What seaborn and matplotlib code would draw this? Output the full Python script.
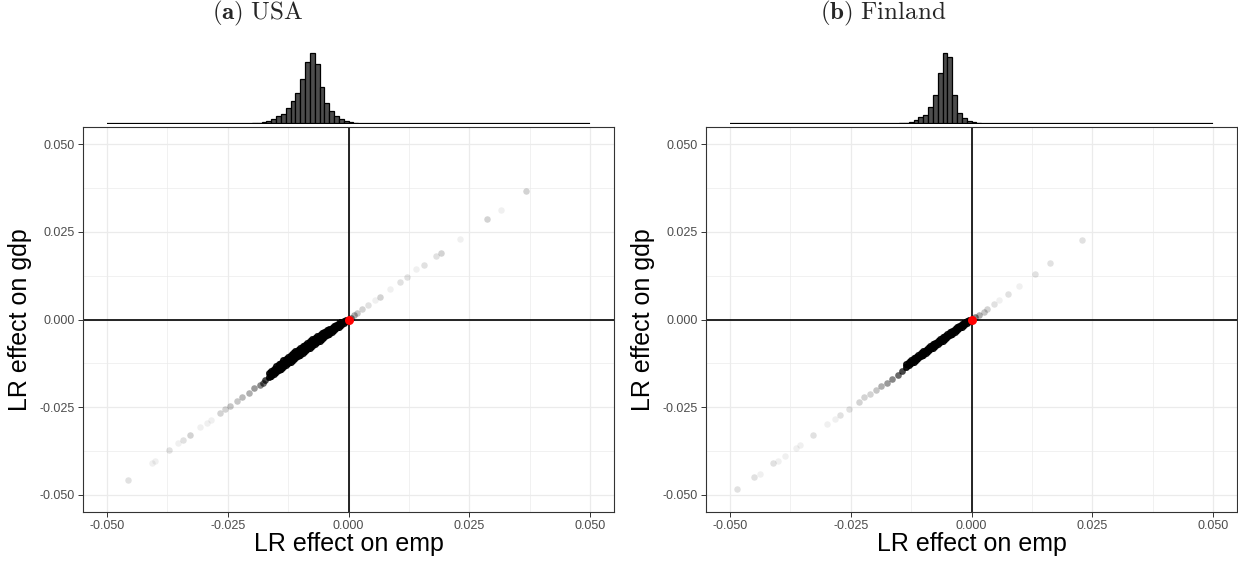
import numpy as np
import pandas as pd
import matplotlib
matplotlib.use("Agg")
import matplotlib.pyplot as plt
import seaborn as sns

# ---------------- data ----------------
tick_values = [-0.05, -0.025, 0.0, 0.025, 0.05]
tick_labels = ["-0.050", "-0.025", "0.000", "0.025", "0.050"]
minor_values = [-0.0375, -0.0125, 0.0125, 0.0375]

panel_titles = [r"$\mathbf{(a)}\ \mathrm{USA}$", r"$\mathbf{(b)}\ \mathrm{Finland}$"]
x_label = "LR effect on emp"
y_label = "LR effect on gdp"

# histogram (marginal of emp effect), bins of width 0.001 from -0.050 to 0.050
hist_bin_width = 0.001
hist_lo, hist_hi = -0.05, 0.05
usa_hist_first_bin = -0.021
usa_hist_counts = [1, 2, 3, 5, 8, 15, 23, 31, 47, 70, 93, 135, 187, 213,
                   180, 112, 63, 39, 24, 14, 8, 5, 2, 1]
fin_hist_first_bin = -0.016
fin_hist_counts = [1, 2, 4, 7, 13, 20, 27, 50, 87, 153, 213, 200, 88, 32,
                   18, 10, 6, 2, 1]

# scatter: dense band (many overlapping draws): upper and lower edge of the band
usa_band_emp = [0.0, -0.0005, -0.001, -0.0015, -0.002, -0.0025, -0.003, -0.0035, -0.004, -0.0045,
                -0.005, -0.0055, -0.006, -0.0065, -0.007, -0.0075, -0.008, -0.0085, -0.009, -0.0095,
                -0.010, -0.0105, -0.011, -0.0115, -0.012, -0.0125, -0.013, -0.0135, -0.014, -0.0145,
                -0.015, -0.0155, -0.016, -0.0165]
usa_band_gdp_hi = [0.0, -0.0001, -0.0003, -0.0007, -0.0011, -0.0015, -0.0019, -0.0023, -0.0027, -0.0031,
                   -0.0035, -0.0039, -0.0044, -0.0048, -0.0053, -0.0057, -0.0062, -0.0067, -0.0072, -0.0076,
                   -0.0081, -0.0086, -0.0091, -0.0096, -0.0101, -0.0107, -0.0112, -0.0117, -0.0123, -0.0128,
                   -0.0134, -0.0140, -0.0146, -0.0153]
usa_band_gdp_lo = [0.0, -0.0005, -0.0010, -0.0015, -0.0020, -0.0025, -0.0030, -0.0035, -0.0040, -0.0045,
                   -0.0050, -0.0055, -0.0060, -0.0065, -0.0070, -0.0075, -0.0080, -0.0085, -0.0090, -0.0095,
                   -0.0100, -0.0105, -0.0110, -0.0115, -0.0120, -0.0125, -0.0130, -0.0135, -0.0140, -0.0145,
                   -0.0150, -0.0155, -0.0160, -0.0164]
fin_band_emp = [0.0, -0.0005, -0.001, -0.0015, -0.002, -0.0025, -0.003, -0.0035, -0.004, -0.0045,
                -0.005, -0.0055, -0.006, -0.0065, -0.007, -0.0075, -0.008, -0.0085, -0.009, -0.0095,
                -0.010, -0.0105, -0.011, -0.0115, -0.012, -0.0125, -0.013, -0.0135]
fin_band_gdp_hi = [0.0, -0.0002, -0.0005, -0.0009, -0.0013, -0.0018, -0.0022, -0.0027, -0.0032, -0.0036,
                   -0.0041, -0.0046, -0.0051, -0.0056, -0.0061, -0.0066, -0.0071, -0.0076, -0.0081, -0.0086,
                   -0.0091, -0.0096, -0.0101, -0.0106, -0.0111, -0.0116, -0.0121, -0.0127]
fin_band_gdp_lo = [0.0, -0.0005, -0.0010, -0.0015, -0.0020, -0.0025, -0.0030, -0.0035, -0.0040, -0.0045,
                   -0.0050, -0.0055, -0.0060, -0.0065, -0.0070, -0.0075, -0.0080, -0.0085, -0.0090, -0.0095,
                   -0.0100, -0.0105, -0.0110, -0.0115, -0.0120, -0.0125, -0.0130, -0.0135]

# scatter: sparse points, with number of overlapping draws
usa_pts_emp = [0.0367, 0.0315, 0.0287, 0.0230, 0.0191, 0.0181, 0.0156, 0.0139, 0.0122, 0.0107,
               0.0086, 0.0065, 0.0054, 0.0040, 0.0029, 0.0018, 0.0011, 0.0005,
               -0.0457, -0.0408, -0.0401, -0.0371, -0.0353, -0.0343, -0.0328, -0.0307, -0.0294,
               -0.0284, -0.0267, -0.0255, -0.0245, -0.0230, -0.0220, -0.0207, -0.0195, -0.0184,
               -0.0178, -0.0172]
usa_pts_gdp = [0.0367, 0.0314, 0.0286, 0.0229, 0.0191, 0.0181, 0.0155, 0.0144, 0.0122, 0.0107,
               0.0086, 0.0065, 0.0055, 0.0041, 0.0029, 0.0019, 0.0012, 0.0005,
               -0.0458, -0.0411, -0.0403, -0.0373, -0.0354, -0.0344, -0.0330, -0.0308, -0.0297,
               -0.0287, -0.0268, -0.0257, -0.0246, -0.0232, -0.0222, -0.0209, -0.0197, -0.0187,
               -0.0180, -0.0174]
usa_pts_n = [3, 1, 3, 1, 3, 2, 2, 1, 2, 2,
             1, 3, 1, 2, 3, 4, 6, 10,
             2, 1, 1, 2, 1, 2, 3, 1, 1,
             1, 3, 3, 4, 4, 5, 6, 8, 10,
             14, 20]

fin_pts_emp = [0.0229, 0.0163, 0.0131, 0.0099, 0.0076, 0.0058, 0.0046, 0.0033, 0.0025, 0.0016, 0.0008,
               -0.0485, -0.0450, -0.0439, -0.0411, -0.0401, -0.0387, -0.0364, -0.0355, -0.0329,
               -0.0299, -0.0283, -0.0272, -0.0254, -0.0234, -0.0222, -0.0210, -0.0197, -0.0187,
               -0.0176, -0.0165, -0.0153, -0.0145]
fin_pts_gdp = [0.0226, 0.0162, 0.0129, 0.0096, 0.0072, 0.0055, 0.0044, 0.0031, 0.0022, 0.0014, 0.0007,
               -0.0485, -0.0451, -0.0441, -0.0411, -0.0403, -0.0389, -0.0368, -0.0358, -0.0330,
               -0.0299, -0.0284, -0.0274, -0.0255, -0.0235, -0.0222, -0.0213, -0.0200, -0.0189,
               -0.0180, -0.0170, -0.0159, -0.0148]
fin_pts_n = [2, 2, 2, 1, 2, 1, 2, 3, 4, 6, 10,
             2, 2, 1, 2, 1, 1, 1, 1, 2,
             1, 1, 2, 2, 3, 3, 3, 4, 6,
             8, 10, 14, 20]

band_draws = 40
point_alpha = 0.06

# ---------------- style ----------------
sns.set_style("white")
plt.rcParams["font.family"] = ["Liberation Sans", "DejaVu Sans"]
plt.rcParams["mathtext.fontset"] = "cm"

W, H = 1238, 562
fig = plt.figure(figsize=(W / 100, H / 100), dpi=100)

def fx(px):
    return px / W

def fy(py):
    return 1 - py / H

panels = [
    dict(left=83, title_x=258, title=panel_titles[0], first=usa_hist_first_bin, counts=usa_hist_counts,
         band_emp=usa_band_emp, band_hi=usa_band_gdp_hi, band_lo=usa_band_gdp_lo,
         pe=usa_pts_emp, pg=usa_pts_gdp, pn=usa_pts_n, ylab_x=20),
    dict(left=706, title_x=883, title=panel_titles[1], first=fin_hist_first_bin, counts=fin_hist_counts,
         band_emp=fin_band_emp, band_hi=fin_band_gdp_hi, band_lo=fin_band_gdp_lo,
         pe=fin_pts_emp, pg=fin_pts_gdp, pn=fin_pts_n, ylab_x=643),
]

ax_w = 531
ax_top, ax_bot = 127, 512
lim = (-0.055, 0.055)

n_bins = int(round((hist_hi - hist_lo) / hist_bin_width))
edges = np.round(hist_lo + hist_bin_width * np.arange(n_bins + 1), 4)
centers = edges[:-1] + hist_bin_width / 2

for p in panels:
    # ---- main scatter axes
    ax = fig.add_axes([fx(p["left"]), fy(ax_bot), fx(ax_w), (ax_bot - ax_top) / H])
    ax.set_facecolor("white")
    ax.set_xlim(lim)
    ax.set_ylim(lim)
    ax.set_xticks(tick_values)
    ax.set_xticklabels(tick_labels)
    ax.set_yticks(tick_values)
    ax.set_yticklabels(tick_labels)
    ax.set_xticks(minor_values, minor=True)
    ax.set_yticks(minor_values, minor=True)
    ax.grid(True, which="major", color="#EBEBEB", linewidth=0.9)
    ax.grid(True, which="minor", color="#EBEBEB", linewidth=0.5)
    ax.set_axisbelow(True)
    ax.tick_params(axis="both", which="major", length=3.5, width=0.7, color="#333333",
                   labelsize=9, labelcolor="#4D4D4D", pad=2.5, direction="out",
                   bottom=True, left=True)
    ax.tick_params(axis="both", which="minor", length=0)
    for s in ax.spines.values():
        s.set_visible(True)
        s.set_color("#333333")
        s.set_linewidth(0.8)

    ax.axhline(0, color="black", linewidth=1.2, zorder=1.5)
    ax.axvline(0, color="black", linewidth=1.2, zorder=1.5)

    band_x = np.repeat(np.array(p["band_emp"] * 2), band_draws)
    band_y = np.repeat(np.array(p["band_hi"] + p["band_lo"]), band_draws)
    pts_x = np.repeat(np.array(p["pe"]), p["pn"])
    pts_y = np.repeat(np.array(p["pg"]), p["pn"])
    df = pd.DataFrame({"emp": np.concatenate([pts_x, band_x]),
                       "gdp": np.concatenate([pts_y, band_y])})
    sns.scatterplot(data=df, x="emp", y="gdp", ax=ax, color="black", alpha=point_alpha,
                    s=22, linewidth=0, zorder=3, legend=False)
    sns.scatterplot(x=[0.0], y=[0.0], ax=ax, color="#FF0000", s=42, linewidth=0, zorder=4)

    ax.set_xlabel(x_label, fontsize=18, color="black", labelpad=0)
    ax.set_ylabel("")
    fig.text(fx(p["ylab_x"]), fy((ax_top + ax_bot) / 2), y_label, rotation=90,
             ha="center", va="center", fontsize=18, color="black")

    # ---- marginal histogram
    axm = fig.add_axes([fx(p["left"]), fy(124), fx(ax_w), 79 / H])
    counts = np.zeros(n_bins)
    i0 = int(round((p["first"] - hist_lo) / hist_bin_width))
    counts[i0:i0 + len(p["counts"])] = p["counts"]
    hdf = pd.DataFrame({"emp": centers, "w": counts})
    sns.histplot(data=hdf, x="emp", weights="w", binwidth=hist_bin_width,
                 binrange=(hist_lo, hist_hi), ax=axm, color="#4D4D4D",
                 edgecolor="black", linewidth=0.9, alpha=1, stat="count")
    # outline of the empty bins along the baseline
    axm.hlines(0, hist_lo, hist_hi, color="black", linewidth=1.6, zorder=5)
    axm.set_xlim(lim)
    axm.set_ylim(0, max(p["counts"]) * 1.11)
    axm.axis("off")

    fig.text(fx(p["title_x"]), fy(13), p["title"], ha="center", va="center", fontsize=18)

fig.savefig("out.png", dpi=100)
